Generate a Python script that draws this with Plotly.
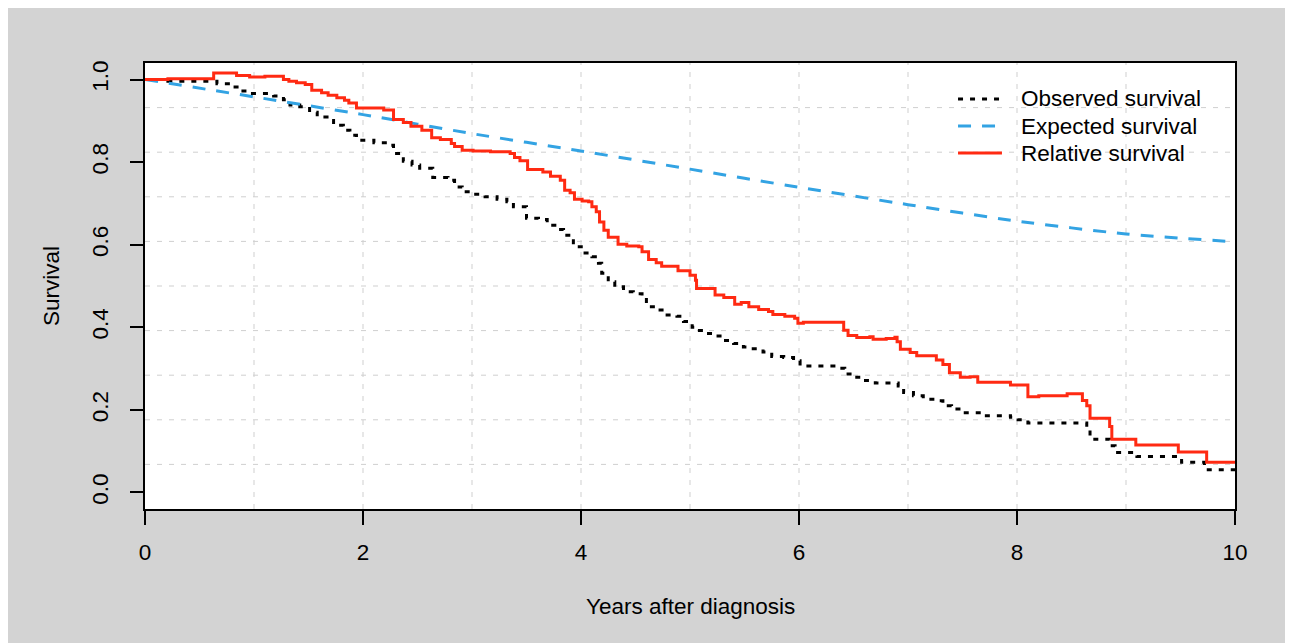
import plotly.graph_objects as go

# ---------------- data ----------------
obs_time = [0.00, 0.21, 0.66, 0.78, 0.87, 0.96, 1.18, 1.27, 1.33, 1.42, 1.51, 1.58, 1.67, 1.73,
            1.82, 1.88, 1.94, 2.10, 2.23, 2.28, 2.37, 2.45, 2.52, 2.64, 2.78, 2.84, 2.91, 3.01,
            3.12, 3.23, 3.32, 3.38, 3.50, 3.61, 3.69, 3.76, 3.84, 3.93, 4.02, 4.10, 4.16, 4.19,
            4.25, 4.31, 4.39, 4.48, 4.56, 4.60, 4.68, 4.79, 4.88, 4.94, 5.02, 5.05, 5.14, 5.23,
            5.31, 5.40, 5.49, 5.58, 5.67, 5.75, 5.86, 5.95, 6.01, 6.35, 6.42, 6.51, 6.61, 6.70,
            6.91, 6.96, 7.05, 7.14, 7.25, 7.32, 7.40, 7.51, 7.69, 7.94, 8.01, 8.10, 8.64, 8.67,
            8.85, 8.90, 9.10, 9.48, 9.51, 9.72, 9.74, 10.00]
obs_surv = [1.000, 0.996, 0.990, 0.982, 0.972, 0.966, 0.960, 0.951, 0.938, 0.934, 0.921, 0.909, 0.901, 0.889,
            0.877, 0.865, 0.853, 0.847, 0.841, 0.821, 0.802, 0.793, 0.785, 0.763, 0.756, 0.740, 0.728, 0.722,
            0.716, 0.710, 0.704, 0.692, 0.664, 0.661, 0.647, 0.637, 0.623, 0.595, 0.580, 0.571, 0.555, 0.531,
            0.510, 0.498, 0.486, 0.481, 0.474, 0.450, 0.442, 0.430, 0.427, 0.414, 0.400, 0.392, 0.385, 0.379,
            0.368, 0.361, 0.352, 0.348, 0.340, 0.329, 0.327, 0.319, 0.306, 0.301, 0.287, 0.279, 0.271, 0.265,
            0.258, 0.242, 0.234, 0.226, 0.222, 0.210, 0.202, 0.193, 0.186, 0.182, 0.176, 0.168, 0.152, 0.129,
            0.113, 0.097, 0.087, 0.083, 0.073, 0.065, 0.055, 0.055]

exp_time = [0, 1, 2, 3, 4, 5, 6, 7, 8, 9, 10]
exp_surv = [1.000, 0.958, 0.915, 0.869, 0.827, 0.783, 0.739, 0.697, 0.657, 0.626, 0.607]

rel_time = [0.00, 0.21, 0.63, 0.84, 0.96, 1.10, 1.27, 1.32, 1.39, 1.47, 1.53, 1.62, 1.68, 1.76,
            1.83, 1.87, 1.94, 2.19, 2.28, 2.37, 2.44, 2.54, 2.63, 2.71, 2.81, 2.84, 2.91, 3.01,
            3.17, 3.35, 3.39, 3.44, 3.51, 3.65, 3.72, 3.81, 3.85, 3.90, 3.94, 4.01, 4.07, 4.10,
            4.14, 4.17, 4.21, 4.25, 4.34, 4.42, 4.53, 4.56, 4.62, 4.69, 4.74, 4.89, 5.00, 5.05,
            5.06, 5.23, 5.31, 5.41, 5.47, 5.54, 5.63, 5.72, 5.76, 5.87, 5.96, 5.99, 6.04, 6.41,
            6.45, 6.53, 6.65, 6.68, 6.80, 6.88, 6.90, 6.93, 7.02, 7.08, 7.26, 7.32, 7.38, 7.48,
            7.57, 7.64, 7.94, 8.10, 8.20, 8.46, 8.60, 8.64, 8.67, 8.85, 8.87, 9.09, 9.48, 9.74, 10.00]
rel_surv = [1.000, 1.002, 1.016, 1.010, 1.006, 1.008, 1.000, 0.996, 0.992, 0.988, 0.974, 0.968, 0.962, 0.956,
            0.950, 0.943, 0.931, 0.926, 0.903, 0.896, 0.887, 0.877, 0.859, 0.855, 0.845, 0.838, 0.829, 0.827,
            0.825, 0.821, 0.811, 0.803, 0.782, 0.776, 0.766, 0.756, 0.732, 0.726, 0.710, 0.706, 0.704, 0.692,
            0.680, 0.655, 0.635, 0.618, 0.601, 0.597, 0.595, 0.583, 0.564, 0.556, 0.548, 0.537, 0.526, 0.514,
            0.494, 0.478, 0.472, 0.456, 0.460, 0.450, 0.443, 0.438, 0.431, 0.427, 0.422, 0.410, 0.412, 0.393,
            0.380, 0.375, 0.377, 0.371, 0.373, 0.376, 0.365, 0.347, 0.339, 0.331, 0.321, 0.310, 0.290, 0.279,
            0.280, 0.267, 0.260, 0.232, 0.234, 0.239, 0.223, 0.210, 0.180, 0.160, 0.129, 0.115, 0.098, 0.073, 0.073]

series_names = ["Observed survival", "Expected survival", "Relative survival"]
x_ticks = [0, 2, 4, 6, 8, 10]
y_ticks = [0.0, 0.2, 0.4, 0.6, 0.8, 1.0]
y_tick_labels = ["0.0", "0.2", "0.4", "0.6", "0.8", "1.0"]
x_title = "Years after diagnosis"
y_title = "Survival"

# ---------------- styles ----------------
FONT = "Liberation Sans, Arial, Helvetica, sans-serif"
FS = 22.5
BG = "#d3d3d3"
GRID = "#cfcfcf"
colors = ["#000000", "#33a3e3", "#ff2a12"]
dashes = ["5px,7px", "13px,11px", "solid"]
LW = 3
XRANGE = [0, 10]
YRANGE = [-0.04, 1.04]

fig = go.Figure()
fig.add_trace(go.Scatter(x=obs_time, y=obs_surv, mode="lines", line_shape="hv", name=series_names[0],
                         line=dict(color=colors[0], width=LW, dash=dashes[0]), showlegend=False))
fig.add_trace(go.Scatter(x=exp_time, y=exp_surv, mode="lines", line_shape="spline", name=series_names[1],
                         line=dict(color=colors[1], width=LW, dash=dashes[1], smoothing=0.6), showlegend=False))
fig.add_trace(go.Scatter(x=rel_time, y=rel_surv, mode="lines", line_shape="hv", name=series_names[2],
                         line=dict(color=colors[2], width=LW, dash=dashes[2]), showlegend=False))

shapes = []
# grey panel behind everything, white plotting region on top of it
shapes.append(dict(type="rect", xref="paper", yref="paper", x0=-0.2, x1=1.2, y0=-0.4, y1=1.2,
                   fillcolor=BG, line=dict(width=0), layer="below"))
shapes.append(dict(type="rect", xref="paper", yref="paper", x0=0, x1=1, y0=0, y1=1,
                   fillcolor="white", line=dict(width=0), layer="below"))
# grid: 10 x 10 cells over the plotting region
for k in range(1, 10):
    xv = XRANGE[0] + k * (XRANGE[1] - XRANGE[0]) / 10
    shapes.append(dict(type="line", xref="x", yref="paper", x0=xv, x1=xv, y0=0, y1=1,
                       line=dict(color=GRID, width=1, dash="5px,7px"), layer="below"))
    yv = YRANGE[0] + k * (YRANGE[1] - YRANGE[0]) / 10
    shapes.append(dict(type="line", xref="paper", yref="y", x0=0, x1=1, y0=yv, y1=yv,
                       line=dict(color=GRID, width=1, dash="5px,7px"), layer="below"))

# legend (drawn manually, top-right inside the plotting region)
leg_x0, leg_x1, leg_tx = 0.7459, 0.7862, 0.8022
leg_y = [0.9193, 0.8587, 0.7982]
annotations = []
for i, nm in enumerate(series_names):
    shapes.append(dict(type="line", xref="paper", yref="paper", x0=leg_x0, x1=leg_x1, y0=leg_y[i], y1=leg_y[i],
                       line=dict(color=colors[i], width=LW, dash=dashes[i])))
    annotations.append(dict(text=nm, xref="paper", yref="paper", x=leg_tx, y=leg_y[i], xanchor="left",
                            yanchor="middle", showarrow=False, font=dict(family=FONT, size=FS, color="black")))

annotations.append(dict(text=x_title, xref="paper", yref="paper", x=0.5, y=-0.218, xanchor="center",
                        yanchor="middle", showarrow=False, font=dict(family=FONT, size=FS, color="black")))
annotations.append(dict(text=y_title, xref="paper", yref="paper", x=-0.0862, y=0.5, xanchor="center",
                        yanchor="middle", textangle=-90, showarrow=False,
                        font=dict(family=FONT, size=FS, color="black")))

fig.update_layout(
    width=1285, height=635,
    margin=dict(l=137, r=58, t=55, b=134, pad=0),
    paper_bgcolor=BG, plot_bgcolor="white",
    font=dict(family=FONT, size=FS, color="black"),
    shapes=shapes, annotations=annotations,
    showlegend=False,
)
fig.update_xaxes(range=XRANGE, tickvals=x_ticks, ticktext=[str(v) for v in x_ticks],
                 showgrid=False, zeroline=False, showline=True, linecolor="black", linewidth=2, mirror=True,
                 ticks="outside", ticklen=14, tickwidth=2, tickcolor="black", ticklabelstandoff=8,
                 tickfont=dict(family=FONT, size=FS, color="black"))
fig.update_yaxes(range=YRANGE, tickvals=y_ticks, ticktext=y_tick_labels, tickangle=-90,
                 showgrid=False, zeroline=False, showline=True, linecolor="black", linewidth=2, mirror=True,
                 ticks="outside", ticklen=13, tickwidth=2, tickcolor="black", ticklabelstandoff=13,
                 tickfont=dict(family=FONT, size=FS, color="black"))

fig.write_html("out.html")
